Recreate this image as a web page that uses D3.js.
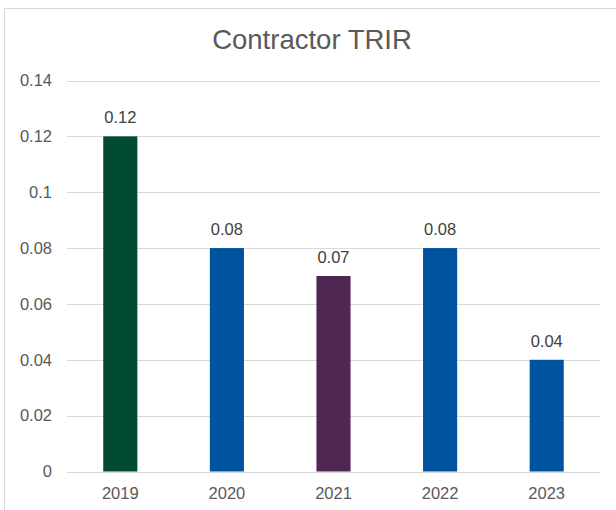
<!DOCTYPE html>
<html><head><meta charset="utf-8">
<script src="https://cdn.jsdelivr.net/npm/d3@7"></script>
<style>html,body{margin:0;padding:0;background:#fff;}svg{display:block;}</style>
</head><body>
<script>
const categories = ["2019","2020","2021","2022","2023"];
const values = [0.12, 0.08, 0.07, 0.08, 0.04];
const barColors = ["#024B33","#00539F","#4F2752","#00539F","#00539F"];
const valueLabels = ["0.12","0.08","0.07","0.08","0.04"];
const yTicks = [0, 0.02, 0.04, 0.06, 0.08, 0.1, 0.12, 0.14];
const yTickLabels = ["0","0.02","0.04","0.06","0.08","0.1","0.12","0.14"];
const title = "Contractor TRIR";

(function () {
const W = 616, H = 510;
const svg = d3.select("body").append("svg").attr("width", W).attr("height", H);
const font = "'Liberation Sans', Arial, sans-serif";
const textColor = "#595959";

// chart border
svg.append("rect").attr("x", 4.5).attr("y", 8.5).attr("width", 700).attr("height", 600)
  .attr("fill", "#fff").attr("stroke", "#d9d9d9").attr("stroke-width", 1);

const pLeft = 67, pRight = 600, pTop = 80.5, pBottom = 471.5;
const x = d3.scaleBand().domain(categories).range([pLeft, pRight]).paddingInner(0).paddingOuter(0);
const y = d3.scaleLinear().domain([0, 0.14]).range([pBottom, pTop]);

// gridlines
svg.append("g").selectAll("line").data(yTicks).join("line")
  .attr("x1", pLeft).attr("x2", pRight)
  .attr("y1", d => Math.round(y(d)) + 0.5).attr("y2", d => Math.round(y(d)) + 0.5)
  .attr("stroke", "#d9d9d9").attr("stroke-width", 1);

// y tick labels
svg.append("g").selectAll("text").data(yTicks).join("text")
  .attr("x", 52).attr("y", d => y(d)).attr("dy", "0.35em")
  .attr("text-anchor", "end").attr("font-family", font).attr("font-size", 16.5)
  .attr("fill", textColor).text((d, i) => yTickLabels[i]);

// bars
const bw = x.bandwidth() * 0.32;
svg.append("g").selectAll("rect").data(values).join("rect")
  .attr("x", (d, i) => x(categories[i]) + x.bandwidth() / 2 - bw / 2)
  .attr("width", bw)
  .attr("y", d => y(d))
  .attr("height", d => y(0) - y(d))
  .attr("fill", (d, i) => barColors[i]);

// value labels
svg.append("g").selectAll("text").data(values).join("text")
  .attr("x", (d, i) => x(categories[i]) + x.bandwidth() / 2)
  .attr("y", d => y(d) - 13)
  .attr("text-anchor", "middle").attr("font-family", font).attr("font-size", 16.5)
  .attr("fill", "#404040").text((d, i) => valueLabels[i]);

// x labels
svg.append("g").selectAll("text").data(categories).join("text")
  .attr("x", d => x(d) + x.bandwidth() / 2)
  .attr("y", 499)
  .attr("text-anchor", "middle").attr("font-family", font).attr("font-size", 16.5)
  .attr("fill", textColor).text(d => d);

// title
svg.append("text").attr("x", 312).attr("y", 49).attr("text-anchor", "middle")
  .attr("font-family", font).attr("font-size", 27.5).attr("fill", textColor).text(title);
})();
</script>
</body></html>
